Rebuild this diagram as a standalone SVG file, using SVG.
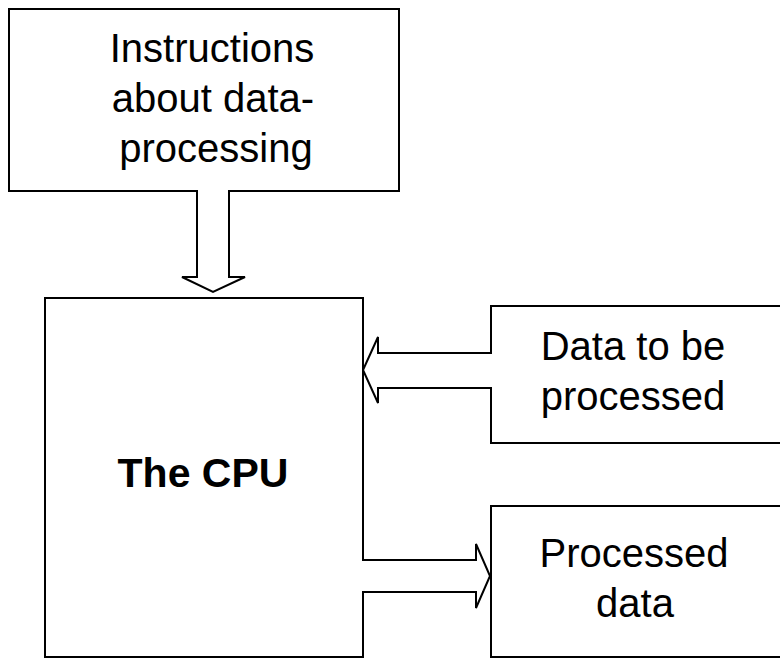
<svg xmlns="http://www.w3.org/2000/svg" width="780" height="658" viewBox="0 0 780 658">
<style>
.box{fill:#fff;stroke:#000;stroke-width:2}
.arrow{fill:#fff;stroke:#000;stroke-width:2;stroke-linejoin:miter}
.t{font-family:"Liberation Sans",Arial,sans-serif;font-size:40px;fill:#000;text-anchor:middle}
.b{font-weight:bold;font-size:41px}
</style>
<rect width="780" height="658" fill="#fff"/>
<g id="instructions">
<rect class="box" x="9" y="9" width="390" height="182"/>
<text class="t" x="212" y="62">Instructions</text>
<text class="t" x="213" y="112">about data-</text>
<text class="t" x="216" y="162">processing</text>
</g>
<g id="cpu">
<rect class="box" x="45" y="298" width="318" height="359"/>
<text class="t b" x="203" y="487">The CPU</text>
</g>
<g id="data-in">
<rect class="box" x="491" y="306" width="292" height="137"/>
<text class="t" x="633" y="360">Data to be</text>
<text class="t" x="633" y="410">processed</text>
</g>
<g id="data-out">
<rect class="box" x="491" y="506" width="292" height="151"/>
<text class="t" x="634" y="567">Processed</text>
<text class="t" x="635" y="617">data</text>
</g>
<g id="connectors">
<path class="arrow" d="M197,190 V277 H182 L213,292 L245,277 H229 V190"/>
<path class="arrow" d="M492,353 H378 V337 L363,370 L378,403 V388 H492"/>
<path class="arrow" d="M362,560 H476 V544 L490,576 L476,608 V592 H362"/>
</g>
</svg>
